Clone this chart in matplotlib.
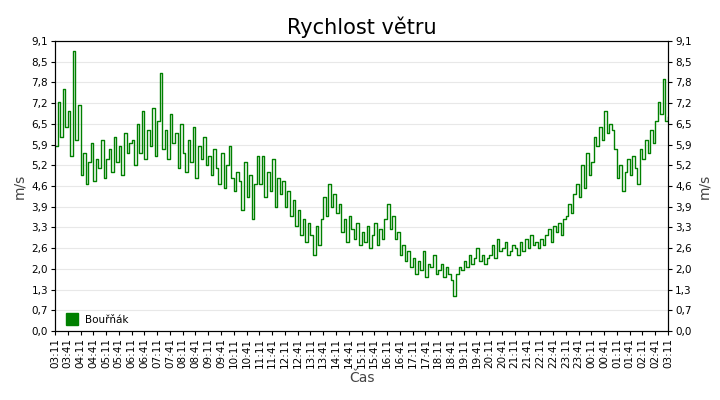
import matplotlib
matplotlib.use("Agg")
import matplotlib.pyplot as plt
import numpy as np

speed = [
 5.8,7.2,6.1,7.6,6.4,6.9,5.5,8.8,6.0,7.1,
 4.9,5.6,4.6,5.3,5.9,4.7,5.4,5.1,6.0,4.8,
 5.4,5.7,5.0,6.1,5.3,5.8,4.9,6.2,5.6,5.9,
 6.0,5.2,6.5,5.6,6.9,5.4,6.3,5.8,7.0,5.5,
 6.6,8.1,5.7,6.3,5.4,6.8,5.9,6.2,5.1,6.5,
 5.6,5.0,6.0,5.3,6.4,4.8,5.8,5.4,6.1,5.2,
 5.5,4.9,5.7,5.1,4.6,5.6,4.5,5.2,5.8,4.8,
 4.4,5.0,4.7,3.8,5.3,4.2,4.9,3.5,4.6,5.5,
 4.6,5.5,4.2,5.0,4.4,5.4,3.9,4.8,4.3,4.7,
 3.9,4.4,3.6,4.1,3.3,3.8,3.0,3.5,2.8,3.4,
 3.0,2.4,3.3,2.7,3.5,4.2,3.6,4.6,3.9,4.3,
 3.7,4.0,3.1,3.5,2.8,3.6,3.2,2.9,3.4,2.7,
 3.1,2.8,3.3,2.6,3.0,3.4,2.7,3.2,2.9,3.5,
 4.0,3.2,3.6,2.9,3.1,2.4,2.7,2.2,2.5,2.0,
 2.3,1.8,2.2,1.9,2.5,1.7,2.1,2.0,2.4,1.8,
 1.9,2.1,1.7,2.0,1.8,1.6,1.1,1.8,2.0,1.9,
 2.2,2.0,2.4,2.1,2.3,2.6,2.2,2.4,2.1,2.3,
 2.4,2.7,2.3,2.9,2.5,2.6,2.8,2.4,2.5,2.7,
 2.6,2.4,2.8,2.5,2.9,2.6,3.0,2.7,2.8,2.6,
 2.9,2.7,3.0,3.2,2.8,3.3,3.1,3.4,3.0,3.5,
 3.6,4.0,3.7,4.3,4.6,4.2,5.2,4.5,5.6,4.9,
 5.3,6.1,5.8,6.4,6.0,6.9,6.2,6.5,6.3,5.7,
 4.8,5.2,4.4,5.0,5.4,4.9,5.5,5.1,4.6,5.7,
 5.4,6.0,5.6,6.3,5.9,6.6,7.2,6.8,7.9,6.6,
 6.7]
hours = np.arange(len(speed)) * 0.1

tick_labels = []
for i in range(49):
    m = 3*60 + 11 + 30*i
    tick_labels.append(f"{(m//60)%24:02d}:{m%60:02d}")
ytick_vals = [i*0.65 for i in range(15)]
ytick_labels = [f"{v:.1f}".replace(".", ",") for v in [0,0.7,1.3,2.0,2.6,3.3,3.9,4.6,5.2,5.9,6.5,7.2,7.8,8.5,9.1]]

fig = plt.figure(figsize=(7.2, 4.0), dpi=100)
ax = fig.add_axes([55/720, 1-331/400, 613/720, 290/400])
ax.plot(hours, speed, color="#008000", lw=1.0, drawstyle="steps-post", label="Bouřňák")
ax.set_xlim(0, 24)
ax.set_ylim(0, 9.1)
ax.set_yticks(ytick_vals)
ax.set_yticklabels(ytick_labels, fontsize=7.5)
ax.set_xticks(np.arange(49)*0.5)
ax.set_xticklabels(tick_labels, rotation=90, fontsize=7.5)
ax.grid(axis="y", color="#e8e8e8", lw=0.8)
ax.set_axisbelow(True)
ax.tick_params(length=3, pad=2)
ax.set_ylabel("m/s", fontsize=10, color="#444444")
ax.set_xlabel("Čas", fontsize=10, color="#444444", labelpad=2)
ax2 = ax.twinx()
ax2.set_ylim(0, 9.1)
ax2.set_yticks(ytick_vals)
ax2.set_yticklabels(ytick_labels, fontsize=7.5)
ax2.tick_params(length=3, pad=2)
ax2.set_ylabel("m/s", fontsize=10, color="#444444")
ax.set_title("Rychlost větru", fontsize=15, pad=5)
from matplotlib.lines import Line2D
h = Line2D([], [], marker="s", color="#008000", ls="none", markersize=8)
ax.legend([h], ["Bouřňák"], loc="lower left", frameon=False, fontsize=7.5,
          handletextpad=0.3, borderaxespad=0.2)
fig.savefig("out.png", dpi=100)
